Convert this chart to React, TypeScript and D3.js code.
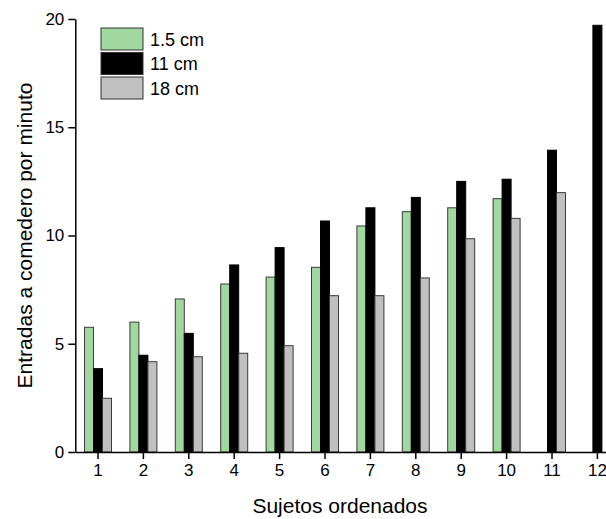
import React, { useEffect, useRef } from "react"
import * as d3 from "d3"

const subjects = ["1", "2", "3", "4", "5", "6", "7", "8", "9", "10", "11", "12"]
const seriesNames = ["1.5 cm", "11 cm", "18 cm"]
const seriesColors = ["#a0d8a0", "#000000", "#c0c0c0"]
const green15 = [5.76, 6.0, 7.07, 7.76, 8.08, 8.53, 10.44, 11.1, 11.28, 11.7, null, null]
const black11 = [3.85, 4.47, 5.48, 8.64, 9.44, 10.67, 11.28, 11.76, 12.5, 12.6, 13.94, 19.71]
const gray18 = [2.48, 4.17, 4.4, 4.56, 4.91, 7.22, 7.22, 8.04, 9.85, 10.79, 11.98, null]
const yTicks = [0, 5, 10, 15, 20]

const W = 606
const H = 519
const FONT = "'Liberation Sans', Arial, sans-serif"

export default function App() {
  const ref = useRef<SVGSVGElement>(null)

  useEffect(() => {
    const svg = d3.select(ref.current)
    svg.selectAll("*").remove()

    const left = 75.3
    const bottom = 452
    const top = 19

    const x = d3.scaleBand<string>().domain(subjects).range([left, left + 12 * 45.4])
    const y = d3.scaleLinear().domain([0, 20]).range([bottom, top])
    const sub = d3.scaleBand<number>().domain([0, 1, 2]).range([0, 27])

    const all = [green15, black11, gray18]

    all.forEach((vals, si) => {
      svg.append("g")
        .selectAll("rect")
        .data(vals.map((v, i) => ({ v, s: subjects[i] })).filter(d => d.v != null))
        .join("rect")
        .attr("x", d => x(d.s)! + x.bandwidth() / 2 - 13.5 + sub(si)!)
        .attr("y", d => y(d.v as number))
        .attr("width", sub.bandwidth())
        .attr("height", d => bottom - y(d.v as number))
        .attr("fill", seriesColors[si])
        .attr("stroke", si === 1 ? "#000" : "#3a3a3a")
        .attr("stroke-width", 1)
    })

    // y axis
    const ya = svg.append("g").attr("transform", `translate(${left},0)`)
      .call(d3.axisLeft(y).tickValues(yTicks).tickSize(7).tickPadding(4).tickSizeOuter(0))
    ya.select(".domain").attr("stroke-width", 1.5)
    ya.selectAll(".tick line").attr("stroke-width", 1.5)
    ya.selectAll("text").attr("font-size", 17).attr("font-family", FONT).attr("fill", "#000")

    // x axis
    const xa = svg.append("g").attr("transform", `translate(0,${bottom})`)
      .call(d3.axisBottom(x).tickSize(7).tickPadding(5).tickSizeOuter(0))
    xa.select(".domain").attr("stroke-width", 1.5)
    xa.selectAll(".tick line").attr("stroke-width", 1.5)
    xa.selectAll("text").attr("font-size", 17).attr("font-family", FONT).attr("fill", "#000")

    svg.append("text")
      .attr("x", 340).attr("y", 513)
      .attr("text-anchor", "middle")
      .attr("font-size", 21).attr("font-family", FONT)
      .text("Sujetos ordenados")

    svg.append("text")
      .attr("transform", `translate(32,${(top + bottom) / 2}) rotate(-90)`)
      .attr("text-anchor", "middle")
      .attr("font-size", 21).attr("font-family", FONT)
      .text("Entradas a comedero por minuto")

    // legend
    const lg = svg.append("g").attr("transform", "translate(101,28)")
    seriesNames.forEach((name, i) => {
      lg.append("rect")
        .attr("x", 0).attr("y", i * 24.5)
        .attr("width", 42).attr("height", 22)
        .attr("fill", seriesColors[i])
        .attr("stroke", "#333").attr("stroke-width", 1)
      lg.append("text")
        .attr("x", 49).attr("y", i * 24.5 + 17.5)
        .attr("font-size", 18).attr("font-family", FONT)
        .text(name)
    })
  }, [])

  return (
    <svg ref={ref} width={W} height={H}
      style={{ position: "absolute", left: 0, top: 0, background: "#fff" }} />
  )
}
